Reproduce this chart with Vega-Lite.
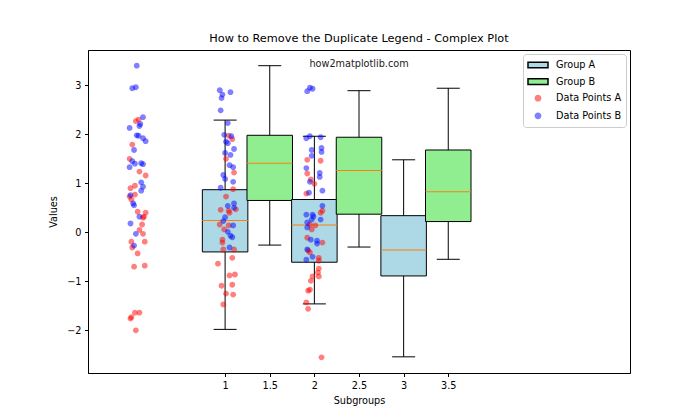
{
  "$schema": "https://vega.github.io/schema/vega-lite/v6.json",
  "width": 542,
  "height": 323,
  "autosize": {"type": "none"},
  "padding": {"left": 88, "top": 50, "right": 70, "bottom": 47},
  "title": {"text": "How to Remove the Duplicate Legend - Complex Plot", "font": "DejaVu Sans", "fontSize": 11.3, "fontWeight": "normal", "color": "black", "offset": 6},
  "datasets": {
    "boxes": [
      {"pos": 1, "series": "Group A", "lower": -1.98, "q1": -0.40, "median": 0.24, "q3": 0.87, "upper": 2.29},
      {"pos": 1.5, "series": "Group B", "lower": -0.26, "q1": 0.65, "median": 1.41, "q3": 1.98, "upper": 3.40},
      {"pos": 2, "series": "Group A", "lower": -1.46, "q1": -0.61, "median": 0.15, "q3": 0.67, "upper": 1.96},
      {"pos": 2.5, "series": "Group B", "lower": -0.30, "q1": 0.37, "median": 1.26, "q3": 1.94, "upper": 2.89},
      {"pos": 3, "series": "Group A", "lower": -2.54, "q1": -0.89, "median": -0.36, "q3": 0.34, "upper": 1.48},
      {"pos": 3.5, "series": "Group B", "lower": -0.55, "q1": 0.22, "median": 0.83, "q3": 1.68, "upper": 2.94}
    ],
    "points": [
      {"x": 0.03, "y": 2.30, "series": "Data Points A"},
      {"x": 0.0, "y": 2.27, "series": "Data Points A"},
      {"x": -0.04, "y": 1.79, "series": "Data Points A"},
      {"x": -0.07, "y": 1.50, "series": "Data Points A"},
      {"x": 0.04, "y": 1.24, "series": "Data Points A"},
      {"x": 0.11, "y": 1.16, "series": "Data Points A"},
      {"x": -0.01, "y": 0.95, "series": "Data Points A"},
      {"x": -0.06, "y": 0.90, "series": "Data Points A"},
      {"x": -0.01, "y": 0.77, "series": "Data Points A"},
      {"x": -0.07, "y": 0.73, "series": "Data Points A"},
      {"x": -0.05, "y": 0.67, "series": "Data Points A"},
      {"x": 0.02, "y": 0.42, "series": "Data Points A"},
      {"x": 0.11, "y": 0.40, "series": "Data Points A"},
      {"x": 0.08, "y": 0.30, "series": "Data Points A"},
      {"x": 0.09, "y": 0.32, "series": "Data Points A"},
      {"x": 0.07, "y": 0.16, "series": "Data Points A"},
      {"x": 0.04, "y": 0.05, "series": "Data Points A"},
      {"x": 0.08, "y": -0.03, "series": "Data Points A"},
      {"x": -0.05, "y": -0.19, "series": "Data Points A"},
      {"x": 0.10, "y": -0.19, "series": "Data Points A"},
      {"x": -0.04, "y": -0.31, "series": "Data Points A"},
      {"x": 0.02, "y": -0.43, "series": "Data Points A"},
      {"x": -0.02, "y": -0.70, "series": "Data Points A"},
      {"x": 0.10, "y": -0.68, "series": "Data Points A"},
      {"x": -0.01, "y": -1.64, "series": "Data Points A"},
      {"x": 0.04, "y": -1.64, "series": "Data Points A"},
      {"x": -0.05, "y": -1.73, "series": "Data Points A"},
      {"x": -0.06, "y": -1.76, "series": "Data Points A"},
      {"x": 0.0, "y": -2.00, "series": "Data Points A"},
      {"x": 1.04, "y": 1.97, "series": "Data Points A"},
      {"x": 1.08, "y": 1.90, "series": "Data Points A"},
      {"x": 1.01, "y": 1.50, "series": "Data Points A"},
      {"x": 1.10, "y": 1.22, "series": "Data Points A"},
      {"x": 1.09, "y": 0.88, "series": "Data Points A"},
      {"x": 1.01, "y": 0.73, "series": "Data Points A"},
      {"x": 0.95, "y": 0.46, "series": "Data Points A"},
      {"x": 1.04, "y": 0.44, "series": "Data Points A"},
      {"x": 1.12, "y": 0.47, "series": "Data Points A"},
      {"x": 1.05, "y": 0.40, "series": "Data Points A"},
      {"x": 0.94, "y": 0.16, "series": "Data Points A"},
      {"x": 0.99, "y": 0.06, "series": "Data Points A"},
      {"x": 1.04, "y": 0.14, "series": "Data Points A"},
      {"x": 0.97, "y": -0.15, "series": "Data Points A"},
      {"x": 0.97, "y": -0.21, "series": "Data Points A"},
      {"x": 0.98, "y": -0.35, "series": "Data Points A"},
      {"x": 1.10, "y": -0.35, "series": "Data Points A"},
      {"x": 1.08, "y": -0.52, "series": "Data Points A"},
      {"x": 0.92, "y": -0.64, "series": "Data Points A"},
      {"x": 1.05, "y": -0.88, "series": "Data Points A"},
      {"x": 1.11, "y": -0.86, "series": "Data Points A"},
      {"x": 0.96, "y": -1.09, "series": "Data Points A"},
      {"x": 1.08, "y": -1.07, "series": "Data Points A"},
      {"x": 1.01, "y": -1.25, "series": "Data Points A"},
      {"x": 1.09, "y": -1.27, "series": "Data Points A"},
      {"x": 0.98, "y": -1.47, "series": "Data Points A"},
      {"x": 1.92, "y": 1.48, "series": "Data Points A"},
      {"x": 2.07, "y": 1.46, "series": "Data Points A"},
      {"x": 1.92, "y": 1.20, "series": "Data Points A"},
      {"x": 1.96, "y": 1.08, "series": "Data Points A"},
      {"x": 2.0, "y": 0.99, "series": "Data Points A"},
      {"x": 1.91, "y": 0.79, "series": "Data Points A"},
      {"x": 2.09, "y": 0.44, "series": "Data Points A"},
      {"x": 2.07, "y": 0.40, "series": "Data Points A"},
      {"x": 1.95, "y": 0.16, "series": "Data Points A"},
      {"x": 2.01, "y": 0.14, "series": "Data Points A"},
      {"x": 1.97, "y": 0.06, "series": "Data Points A"},
      {"x": 1.92, "y": -0.11, "series": "Data Points A"},
      {"x": 2.09, "y": -0.21, "series": "Data Points A"},
      {"x": 1.93, "y": -0.37, "series": "Data Points A"},
      {"x": 1.95, "y": -0.41, "series": "Data Points A"},
      {"x": 2.05, "y": -0.52, "series": "Data Points A"},
      {"x": 2.05, "y": -0.58, "series": "Data Points A"},
      {"x": 2.05, "y": -0.74, "series": "Data Points A"},
      {"x": 2.04, "y": -0.82, "series": "Data Points A"},
      {"x": 2.05, "y": -0.90, "series": "Data Points A"},
      {"x": 1.98, "y": -0.90, "series": "Data Points A"},
      {"x": 1.96, "y": -0.99, "series": "Data Points A"},
      {"x": 1.95, "y": -1.17, "series": "Data Points A"},
      {"x": 1.93, "y": -1.19, "series": "Data Points A"},
      {"x": 1.91, "y": -1.43, "series": "Data Points A"},
      {"x": 1.93, "y": -1.56, "series": "Data Points A"},
      {"x": 2.08, "y": -2.55, "series": "Data Points A"},
      {"x": 0.01, "y": 3.40, "series": "Data Points B"},
      {"x": -0.04, "y": 2.94, "series": "Data Points B"},
      {"x": 0.0, "y": 2.96, "series": "Data Points B"},
      {"x": 0.08, "y": 2.35, "series": "Data Points B"},
      {"x": 0.05, "y": 2.21, "series": "Data Points B"},
      {"x": 0.04, "y": 2.17, "series": "Data Points B"},
      {"x": -0.07, "y": 2.13, "series": "Data Points B"},
      {"x": 0.01, "y": 1.98, "series": "Data Points B"},
      {"x": 0.03, "y": 1.97, "series": "Data Points B"},
      {"x": 0.08, "y": 1.92, "series": "Data Points B"},
      {"x": 0.11, "y": 1.86, "series": "Data Points B"},
      {"x": -0.02, "y": 1.68, "series": "Data Points B"},
      {"x": -0.04, "y": 1.45, "series": "Data Points B"},
      {"x": -0.01, "y": 1.40, "series": "Data Points B"},
      {"x": 0.06, "y": 1.41, "series": "Data Points B"},
      {"x": 0.08, "y": 1.39, "series": "Data Points B"},
      {"x": -0.07, "y": 1.33, "series": "Data Points B"},
      {"x": 0.06, "y": 1.02, "series": "Data Points B"},
      {"x": 0.08, "y": 0.93, "series": "Data Points B"},
      {"x": 0.06, "y": 0.85, "series": "Data Points B"},
      {"x": -0.06, "y": 0.76, "series": "Data Points B"},
      {"x": -0.03, "y": 0.59, "series": "Data Points B"},
      {"x": -0.02, "y": 0.55, "series": "Data Points B"},
      {"x": 0.04, "y": 0.32, "series": "Data Points B"},
      {"x": -0.06, "y": 0.18, "series": "Data Points B"},
      {"x": 0.0, "y": -0.03, "series": "Data Points B"},
      {"x": -0.02, "y": -0.27, "series": "Data Points B"},
      {"x": 0.94, "y": 2.90, "series": "Data Points B"},
      {"x": 0.97, "y": 2.81, "series": "Data Points B"},
      {"x": 0.96, "y": 2.74, "series": "Data Points B"},
      {"x": 1.06, "y": 2.86, "series": "Data Points B"},
      {"x": 0.95, "y": 2.49, "series": "Data Points B"},
      {"x": 1.03, "y": 2.23, "series": "Data Points B"},
      {"x": 0.99, "y": 1.99, "series": "Data Points B"},
      {"x": 1.07, "y": 1.96, "series": "Data Points B"},
      {"x": 1.01, "y": 1.85, "series": "Data Points B"},
      {"x": 1.03, "y": 1.82, "series": "Data Points B"},
      {"x": 1.10, "y": 1.70, "series": "Data Points B"},
      {"x": 1.0, "y": 1.62, "series": "Data Points B"},
      {"x": 1.06, "y": 1.58, "series": "Data Points B"},
      {"x": 1.05, "y": 1.37, "series": "Data Points B"},
      {"x": 1.09, "y": 1.33, "series": "Data Points B"},
      {"x": 0.98, "y": 1.17, "series": "Data Points B"},
      {"x": 1.0, "y": 1.09, "series": "Data Points B"},
      {"x": 1.09, "y": 1.03, "series": "Data Points B"},
      {"x": 0.95, "y": 0.91, "series": "Data Points B"},
      {"x": 1.03, "y": 0.54, "series": "Data Points B"},
      {"x": 1.10, "y": 0.59, "series": "Data Points B"},
      {"x": 1.10, "y": 0.50, "series": "Data Points B"},
      {"x": 1.0, "y": 0.31, "series": "Data Points B"},
      {"x": 0.98, "y": 0.23, "series": "Data Points B"},
      {"x": 1.09, "y": 0.14, "series": "Data Points B"},
      {"x": 1.03, "y": 0.01, "series": "Data Points B"},
      {"x": 1.06, "y": -0.07, "series": "Data Points B"},
      {"x": 1.08, "y": -0.10, "series": "Data Points B"},
      {"x": 1.05, "y": -0.31, "series": "Data Points B"},
      {"x": 1.92, "y": 2.88, "series": "Data Points B"},
      {"x": 1.95, "y": 2.95, "series": "Data Points B"},
      {"x": 1.98, "y": 2.93, "series": "Data Points B"},
      {"x": 1.91, "y": 1.92, "series": "Data Points B"},
      {"x": 1.95, "y": 1.96, "series": "Data Points B"},
      {"x": 2.07, "y": 1.94, "series": "Data Points B"},
      {"x": 1.97, "y": 1.68, "series": "Data Points B"},
      {"x": 2.08, "y": 1.72, "series": "Data Points B"},
      {"x": 2.08, "y": 1.64, "series": "Data Points B"},
      {"x": 1.97, "y": 1.56, "series": "Data Points B"},
      {"x": 1.91, "y": 1.31, "series": "Data Points B"},
      {"x": 2.06, "y": 1.21, "series": "Data Points B"},
      {"x": 2.06, "y": 1.13, "series": "Data Points B"},
      {"x": 1.95, "y": 1.03, "series": "Data Points B"},
      {"x": 2.09, "y": 0.85, "series": "Data Points B"},
      {"x": 1.94, "y": 0.81, "series": "Data Points B"},
      {"x": 2.09, "y": 0.54, "series": "Data Points B"},
      {"x": 1.91, "y": 0.36, "series": "Data Points B"},
      {"x": 1.98, "y": 0.36, "series": "Data Points B"},
      {"x": 1.99, "y": 0.32, "series": "Data Points B"},
      {"x": 2.07, "y": 0.26, "series": "Data Points B"},
      {"x": 1.92, "y": 0.20, "series": "Data Points B"},
      {"x": 1.97, "y": 0.26, "series": "Data Points B"},
      {"x": 1.92, "y": 0.10, "series": "Data Points B"},
      {"x": 1.96, "y": -0.15, "series": "Data Points B"},
      {"x": 2.03, "y": -0.17, "series": "Data Points B"},
      {"x": 2.03, "y": -0.23, "series": "Data Points B"},
      {"x": 1.92, "y": -0.35, "series": "Data Points B"},
      {"x": 1.98, "y": -0.50, "series": "Data Points B"},
      {"x": 1.91, "y": -0.56, "series": "Data Points B"}
    ],
    "notes": [
      {"label": "how2matplotlib.com", "x": 2.5, "y": 3.38}
    ]
  },
  "layer": [
    {
      "data": {"name": "boxes"},
      "mark": {"type": "rule", "color": "black", "strokeWidth": 1},
      "encoding": {
        "x": {"field": "pos", "type": "quantitative", "scale": {"domain": [-0.48, 5.48], "nice": false, "zero": false},
              "axis": {"values": [1, 1.5, 2, 2.5, 3, 3.5], "format": "~g", "title": "Subgroups", "titlePadding": 6}},
        "y": {"field": "lower", "type": "quantitative", "scale": {"domain": [-2.87, 3.72], "nice": false, "zero": false},
              "axis": {"values": [-2, -1, 0, 1, 2, 3], "title": "Values", "titlePadding": 8}},
        "y2": {"field": "upper"}
      }
    },
    {
      "data": {"name": "boxes"},
      "mark": {"type": "tick", "orient": "horizontal", "color": "black", "size": 23, "thickness": 1, "opacity": 1},
      "encoding": {
        "x": {"field": "pos", "type": "quantitative"},
        "y": {"field": "upper", "type": "quantitative"}
      }
    },
    {
      "data": {"name": "boxes"},
      "mark": {"type": "tick", "orient": "horizontal", "color": "black", "size": 23, "thickness": 1, "opacity": 1},
      "encoding": {
        "x": {"field": "pos", "type": "quantitative"},
        "y": {"field": "lower", "type": "quantitative"}
      }
    },
    {
      "data": {"name": "boxes"},
      "mark": {"type": "bar", "orient": "vertical", "width": 45.5, "stroke": "black", "strokeWidth": 1, "opacity": 1},
      "encoding": {
        "x": {"field": "pos", "type": "quantitative"},
        "y": {"field": "q1", "type": "quantitative"},
        "y2": {"field": "q3"},
        "color": {
          "field": "series", "type": "nominal",
          "scale": {"domain": ["Group A", "Group B", "Data Points A", "Data Points B"],
                    "range": ["#add8e6", "#90ee90", "rgba(255,0,0,0.5)", "rgba(0,0,255,0.5)"]},
          "legend": {
            "title": null, "orient": "top-right", "offset": 4, "padding": 4,
            "fillColor": "white", "strokeColor": "#cccccc", "cornerRadius": 3,
            "labelFont": "DejaVu Sans", "labelFontSize": 9.7, "labelColor": "black",
            "symbolSize": 144, "symbolOffset": 4, "rowPadding": 3.6, "labelOffset": 11,
            "labelExpr": "datum.label + '\u00a0'"
          }
        }
      }
    },
    {
      "data": {"name": "boxes"},
      "mark": {"type": "tick", "orient": "horizontal", "color": "#ff7f0e", "size": 45.5, "thickness": 1, "opacity": 1},
      "encoding": {
        "x": {"field": "pos", "type": "quantitative"},
        "y": {"field": "median", "type": "quantitative"}
      }
    },
    {
      "data": {"name": "points"},
      "mark": {"type": "point", "filled": true, "size": 105, "opacity": 1, "strokeWidth": 1},
      "encoding": {
        "x": {"field": "x", "type": "quantitative"},
        "y": {"field": "y", "type": "quantitative"},
        "color": {
          "field": "series", "type": "nominal",
          "scale": {"domain": ["Group A", "Group B", "Data Points A", "Data Points B"],
                    "range": ["#add8e6", "#90ee90", "rgba(255,0,0,0.5)", "rgba(0,0,255,0.5)"]},
          "legend": {
            "title": null, "orient": "top-right", "offset": 4, "padding": 4,
            "fillColor": "white", "strokeColor": "#cccccc", "cornerRadius": 3,
            "labelFont": "DejaVu Sans", "labelFontSize": 9.7, "labelColor": "black",
            "symbolSize": 144, "symbolOffset": 4, "rowPadding": 3.6, "labelOffset": 11,
            "labelExpr": "datum.label + '\u00a0'"
          }
        },
        "shape": {
          "field": "series", "type": "nominal",
          "scale": {"domain": ["Group A", "Group B", "Data Points A", "Data Points B"],
                    "range": ["M-1.667,-0.467H1.667V0.467H-1.667Z", "M-1.667,-0.467H1.667V0.467H-1.667Z", "M-0.567,0A0.567,0.567 0 1,0 0.567,0A0.567,0.567 0 1,0 -0.567,0Z", "M-0.567,0A0.567,0.567 0 1,0 0.567,0A0.567,0.567 0 1,0 -0.567,0Z"]},
          "legend": {
            "title": null, "orient": "top-right", "offset": 4, "padding": 4,
            "fillColor": "white", "strokeColor": "#cccccc", "cornerRadius": 3,
            "labelFont": "DejaVu Sans", "labelFontSize": 9.7, "labelColor": "black",
            "symbolSize": 144, "symbolOffset": 4, "rowPadding": 3.6, "labelOffset": 11,
            "labelExpr": "datum.label + '\u00a0'"
          }
        },
        "stroke": {
          "field": "series", "type": "nominal",
          "scale": {"domain": ["Group A", "Group B", "Data Points A", "Data Points B"],
                    "range": ["black", "black", "rgba(0,0,0,0)", "rgba(0,0,0,0)"]},
          "legend": {
            "title": null, "orient": "top-right", "offset": 4, "padding": 4,
            "fillColor": "white", "strokeColor": "#cccccc", "cornerRadius": 3,
            "labelFont": "DejaVu Sans", "labelFontSize": 9.7, "labelColor": "black",
            "symbolSize": 144, "symbolOffset": 4, "rowPadding": 3.6, "labelOffset": 11,
            "labelExpr": "datum.label + '\u00a0'"
          }
        }
      }
    },
    {
      "data": {"name": "notes"},
      "mark": {"type": "text", "font": "DejaVu Sans", "fontSize": 9.7, "color": "#222222", "align": "center", "baseline": "alphabetic"},
      "encoding": {
        "x": {"field": "x", "type": "quantitative"},
        "y": {"field": "y", "type": "quantitative"},
        "text": {"field": "label"}
      }
    }
  ],
  "config": {
    "view": {"stroke": "black", "strokeWidth": 1},
    "font": "DejaVu Sans",
    "axis": {
      "grid": false, "domainColor": "black", "tickColor": "black", "labelColor": "black", "titleColor": "black",
      "labelFont": "DejaVu Sans", "labelFontSize": 9.7, "titleFont": "DejaVu Sans", "titleFontSize": 9.7,
      "titleFontWeight": "normal", "tickSize": 3.5, "labelPadding": 3.5
    }
  }
}
